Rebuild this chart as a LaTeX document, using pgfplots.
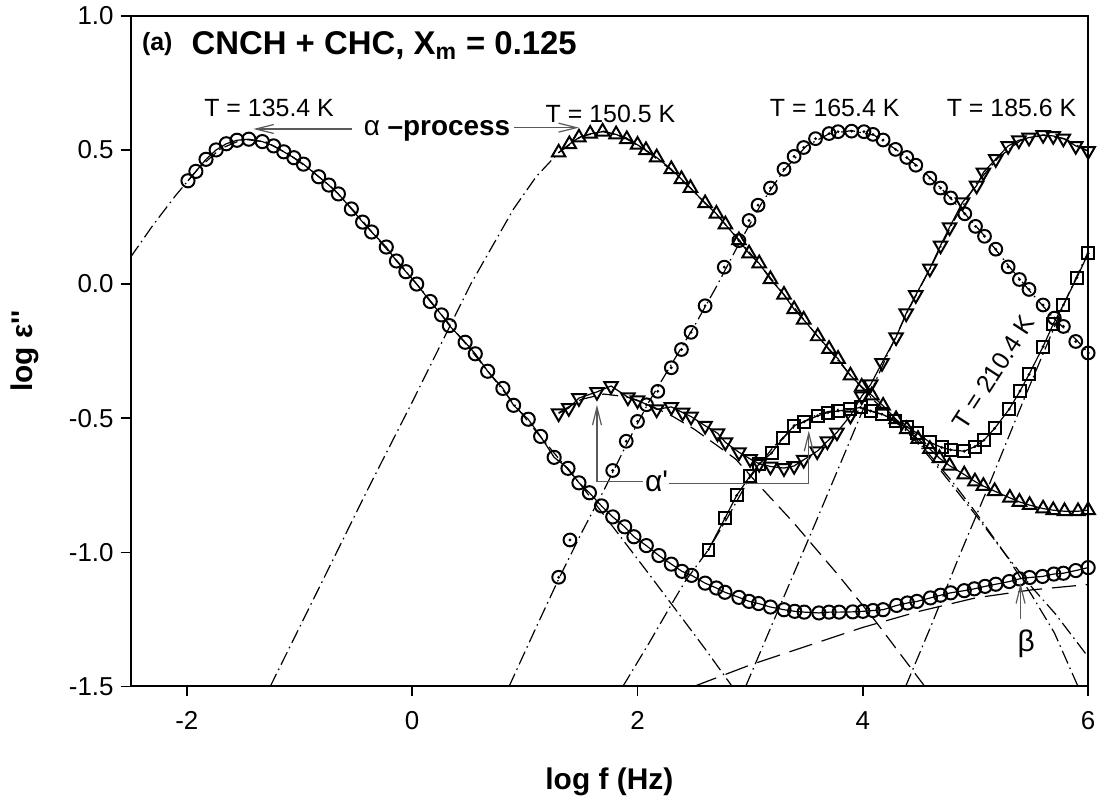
\documentclass[border=0pt]{standalone}
\usepackage{fontspec}
\setmainfont{Liberation Sans}
\newfontfamily\lsn{Liberation Sans}
\usepackage{pgfplots}
\pgfplotsset{compat=1.18}
\usetikzlibrary{arrows.meta}
\pgfdeclareplotmark{odot}{%
  \pgfpathcircle{\pgfpointorigin}{\pgfplotmarksize}\pgfusepathqstroke
  \pgfpathcircle{\pgfpointorigin}{0.8pt}\pgfusepathqfill}
\pgfdeclareplotmark{sqdot}{%
  \pgfpathrectangle{\pgfpoint{-\pgfplotmarksize}{-\pgfplotmarksize}}{\pgfpoint{2\pgfplotmarksize}{2\pgfplotmarksize}}\pgfusepathqstroke
  \pgfpathcircle{\pgfpointorigin}{0.8pt}\pgfusepathqfill}
\tikzset{
  dd/.style={black, line width=0.6pt, dash pattern=on 7pt off 2.2pt on 0.8pt off 2.2pt},
  ds/.style={black, line width=0.6pt, dash pattern=on 8pt off 4pt},
  ld/.style={black, line width=0.6pt, dash pattern=on 12pt off 5pt},
  sl/.style={black, line width=0.6pt},
  ann/.style={black!65, line width=0.6pt},
}
\begin{document}
\begin{tikzpicture}
\path (-65.5pt,-59.5pt) rectangle (485.5pt,343.5pt);
\begin{axis}[
  at={(0,0)}, anchor=south west,
  scale only axis, width=480.5pt, height=336.5pt,
  xmin=-2.5, xmax=6, ymin=-1.5, ymax=1.0,
  xtick={-2,0,2,4,6}, xticklabels={-2,0,2,4,6},
  ytick={-1.5,-1.0,-0.5,0.0,0.5,1.0}, yticklabels={-1.5,-1.0,-0.5,0.0,0.5,1.0},
  tick align=outside, xtick pos=bottom, ytick pos=left, major tick length=5pt,
  tick style={line width=0.8pt, black},
  axis line style={line width=1pt},
  ticklabel style={font=\fontsize{13}{15}\selectfont},
  xticklabel style={yshift=-4pt},
  xlabel={\textbf{log f (Hz)}},
  ylabel={\textbf{log ε{\lsn ''}}},
  xlabel style={at={(axis description cs:0.5,-0.1426)}, anchor=center, font=\fontsize{15}{17}\selectfont},
  ylabel style={at={(axis description cs:-0.11,0.5)}, anchor=center, font=\fontsize{15}{17}\selectfont},
  clip mode=individual,
]
% ---------- fit curves ----------
% 135.4 K alpha
\addplot[dd] coordinates {(-2.5,0.10) (-2.3,0.22) (-2.1,0.33) (-1.9,0.43) (-1.7,0.505) (-1.5,0.54) (-1.3,0.53) (-1.1,0.485) (-0.9,0.425) (-0.7,0.355) (-0.5,0.265) (-0.3,0.165) (-0.1,0.07) (0.1,-0.03) (0.3,-0.135) (0.5,-0.235) (0.7,-0.34) (0.9,-0.445) (1.1,-0.55) (1.3,-0.65) (1.5,-0.75) (1.7,-0.86) (1.9,-0.97) (2.1,-1.08) (2.35,-1.22) (2.6,-1.36) (2.84,-1.5)};
% 135.4 K beta
\addplot[ld] coordinates {(2.5,-1.5) (3.0,-1.42) (3.5,-1.35) (4.0,-1.28) (4.5,-1.22) (5.0,-1.17) (5.5,-1.14) (6.0,-1.12)};
% 150.5 K alpha
\addplot[dd] coordinates {(-1.26,-1.5) (-0.8,-1.11) (-0.4,-0.77) (0.0,-0.44) (0.52,0.0) (0.9,0.28) (1.1,0.40) (1.3,0.49) (1.5,0.55) (1.7,0.57) (1.9,0.545) (2.1,0.49) (2.3,0.425) (2.5,0.345) (2.7,0.26) (2.9,0.165) (3.1,0.065) (3.3,-0.04) (3.5,-0.145) (3.7,-0.245) (3.9,-0.345) (4.1,-0.435) (4.3,-0.51) (4.5,-0.6) (4.7,-0.70) (5.0,-0.86) (5.27,-1.01) (5.5,-1.13) (5.71,-1.23) (6.0,-1.39)};
% 165.4 K alpha
\addplot[dd] coordinates {(0.86,-1.5) (1.1,-1.28) (1.3,-1.1) (1.5,-0.93) (1.7,-0.77) (1.9,-0.6) (2.1,-0.44) (2.3,-0.3) (2.5,-0.16) (2.7,-0.01) (2.9,0.15) (3.1,0.3) (3.3,0.425) (3.5,0.515) (3.7,0.56) (3.9,0.572) (4.1,0.555) (4.3,0.5) (4.5,0.435) (4.7,0.355) (4.9,0.265) (5.1,0.17) (5.3,0.065) (5.5,-0.035) (5.7,-0.13) (5.9,-0.21) (6.0,-0.257)};
% 185.6 K alpha
\addplot[dd] coordinates {(2.96,-1.5) (3.30,-1.165) (3.6,-0.87) (3.82,-0.65) (4.0,-0.47) (4.2,-0.28) (4.4,-0.1) (4.6,0.06) (4.8,0.23) (5.0,0.37) (5.2,0.47) (5.4,0.535) (5.6,0.555) (5.8,0.54) (6.0,0.495)};
% 185.6 K alpha'
\addplot[ds] coordinates {(1.3,-0.48) (1.5,-0.43) (1.7,-0.41) (1.9,-0.42) (2.1,-0.45) (2.3,-0.49) (2.5,-0.54) (2.7,-0.6) (2.87,-0.652) (3.1,-0.76) (3.38,-0.887) (3.78,-1.084) (4.1,-1.25) (4.55,-1.5)};
% 210.4 K alpha'
\addplot[dd] coordinates {(1.87,-1.5) (2.1,-1.34) (2.30,-1.195) (2.42,-1.11) (2.63,-0.99) (2.8,-0.87) (3.0,-0.72) (3.2,-0.61) (3.4,-0.53) (3.6,-0.485) (3.8,-0.465) (4.0,-0.465) (4.2,-0.49) (4.42,-0.553) (4.6,-0.64) (4.8,-0.74) (5.0,-0.85) (5.27,-1.01) (5.5,-1.16) (5.7,-1.3) (5.91,-1.5)};
% 210.4 K alpha
\addplot[dd] coordinates {(4.38,-1.5) (4.6,-1.28) (4.86,-1.01) (5.1,-0.77) (5.42,-0.44) (5.6,-0.26) (5.8,-0.06) (6.0,0.12)};
% ---------- data ----------
% 135.4 K
\addplot[sl, mark=o, mark size=3.3pt, mark options={solid, line width=1pt}] coordinates {
(-1.99,0.385) (-1.92,0.42) (-1.83,0.465) (-1.74,0.50) (-1.65,0.523) (-1.555,0.536) (-1.45,0.54) (-1.33,0.531) (-1.23,0.515) (-1.14,0.493) (-1.05,0.471) (-0.965,0.447) (-0.83,0.40) (-0.74,0.369) (-0.655,0.336) (-0.54,0.28) (-0.44,0.231) (-0.36,0.194) (-0.23,0.138) (-0.14,0.086) (-0.056,0.046) (0.04,0.0) (0.16,-0.065) (0.26,-0.115) (0.33,-0.155) (0.47,-0.217) (0.56,-0.26) (0.67,-0.325) (0.805,-0.389) (0.90,-0.452) (1.03,-0.504) (1.14,-0.568) (1.26,-0.646) (1.383,-0.687) (1.48,-0.741) (1.573,-0.778) (1.68,-0.827) (1.78,-0.868) (1.886,-0.905) (1.968,-0.942) (2.078,-0.975) (2.19,-1.012) (2.30,-1.044) (2.395,-1.071) (2.48,-1.086) (2.60,-1.115) (2.70,-1.133) (2.776,-1.149) (2.90,-1.168) (2.99,-1.183) (3.075,-1.191) (3.18,-1.204) (3.30,-1.214) (3.395,-1.22) (3.48,-1.223) (3.61,-1.226) (3.70,-1.223) (3.79,-1.223) (3.91,-1.222) (4.00,-1.22) (4.09,-1.217) (4.18,-1.214) (4.30,-1.198) (4.395,-1.189) (4.48,-1.183) (4.60,-1.17) (4.69,-1.16) (4.78,-1.151) (4.90,-1.143) (4.99,-1.136) (5.085,-1.127) (5.18,-1.119) (5.30,-1.109) (5.39,-1.099) (5.48,-1.094) (5.595,-1.09) (5.695,-1.081) (5.78,-1.078) (5.89,-1.068) (6.0,-1.057)};
% 150.5 K
\addplot[sl, mark=triangle, mark size=3.9pt, mark options={solid, line width=1pt}] coordinates {
(1.30,0.49) (1.395,0.521) (1.48,0.546) (1.58,0.56) (1.69,0.568) (1.81,0.558) (1.905,0.54) (2.0,0.519) (2.075,0.499) (2.17,0.472) (2.30,0.428) (2.39,0.391) (2.47,0.358) (2.60,0.301) (2.70,0.262) (2.78,0.222) (2.90,0.163) (2.99,0.114) (3.08,0.077) (3.18,0.018) (3.30,-0.04) (3.39,-0.094) (3.475,-0.133) (3.60,-0.195) (3.70,-0.242) (3.78,-0.279) (3.89,-0.341) (3.99,-0.383) (4.08,-0.415) (4.18,-0.454) (4.295,-0.504) (4.39,-0.541) (4.49,-0.578) (4.595,-0.615) (4.68,-0.649) (4.77,-0.677) (4.90,-0.71) (4.995,-0.736) (5.07,-0.753) (5.17,-0.772) (5.305,-0.797) (5.39,-0.812) (5.48,-0.824) (5.60,-0.837) (5.69,-0.843) (5.79,-0.847) (5.91,-0.847) (6.0,-0.843)};
% 165.4 K
\addplot[only marks, mark=odot, mark size=3.2pt, mark options={solid, line width=1pt}] coordinates {
(1.30,-1.093) (1.40,-0.954) (1.78,-0.695) (1.90,-0.586) (2.0,-0.512) (2.08,-0.45) (2.18,-0.40) (2.30,-0.312) (2.39,-0.244) (2.475,-0.18) (2.60,-0.081) (2.77,0.063) (2.90,0.162) (2.99,0.237) (3.07,0.294) (3.18,0.358) (3.30,0.428) (3.39,0.476) (3.475,0.509) (3.58,0.542) (3.70,0.561) (3.78,0.568) (3.90,0.57) (4.01,0.568) (4.09,0.558) (4.18,0.537) (4.29,0.502) (4.39,0.472) (4.47,0.443) (4.595,0.395) (4.69,0.358) (4.78,0.321) (4.905,0.262) (5.00,0.215) (5.08,0.178) (5.18,0.13) (5.29,0.064) (5.39,0.017) (5.475,-0.02) (5.60,-0.078) (5.70,-0.127) (5.78,-0.158) (5.89,-0.214) (6.0,-0.257)};
% 185.6 K
\addplot[sl, mark=triangle, mark size=3.9pt, mark options={solid, line width=1pt, rotate=180}] coordinates {
(1.30,-0.482) (1.39,-0.462) (1.48,-0.425) (1.64,-0.402) (1.765,-0.38) (1.915,-0.422) (2.0,-0.433) (2.17,-0.467) (2.30,-0.458) (2.40,-0.479) (2.475,-0.494) (2.60,-0.528) (2.71,-0.556) (2.78,-0.59) (2.90,-0.627) (3.0,-0.652) (3.08,-0.67) (3.18,-0.68) (3.30,-0.686) (3.39,-0.678) (3.475,-0.655) (3.595,-0.623) (3.685,-0.586) (3.77,-0.553) (3.89,-0.49) (3.99,-0.418) (4.07,-0.374) (4.17,-0.294) (4.295,-0.198) (4.385,-0.109) (4.47,-0.041) (4.595,0.058) (4.69,0.144) (4.77,0.212) (4.885,0.305) (5.01,0.367) (5.07,0.416) (5.18,0.466) (5.29,0.515) (5.385,0.536) (5.475,0.546) (5.60,0.556) (5.69,0.552) (5.78,0.543) (5.89,0.515) (6.0,0.496)};
% 210.4 K
\addplot[sl, mark=sqdot, mark size=3pt, mark options={solid, line width=1pt}] coordinates {
(2.63,-0.99) (2.776,-0.873) (2.88,-0.788) (3.0,-0.715) (3.08,-0.67) (3.19,-0.63) (3.29,-0.575) (3.39,-0.528) (3.48,-0.513) (3.60,-0.491) (3.69,-0.479) (3.78,-0.473) (3.89,-0.467) (3.98,-0.46) (4.07,-0.473) (4.17,-0.485) (4.29,-0.51) (4.39,-0.533) (4.48,-0.555) (4.595,-0.59) (4.70,-0.609) (4.78,-0.618) (4.90,-0.623) (4.995,-0.606) (5.075,-0.582) (5.17,-0.538) (5.30,-0.466) (5.395,-0.399) (5.475,-0.337) (5.60,-0.233) (5.69,-0.149) (5.78,-0.078) (5.90,0.024) (6.0,0.114)};
% ---------- annotations ----------
\node[anchor=west, font=\bfseries\fontsize{12.5}{14}\selectfont] at (axis cs:-2.46,0.893) {(a)};
\node[anchor=west, font=\bfseries\fontsize{16.5}{19}\selectfont] at (axis cs:-2.02,0.888) {CNCH + CHC, X\textsubscript{m} = 0.125};
\node[font=\fontsize{12.5}{14}\selectfont] at (axis cs:-1.27,0.657) {T = 135.4 K};
\node[font=\fontsize{12.5}{14}\selectfont] at (axis cs:1.76,0.636) {T = 150.5 K};
\node[font=\fontsize{12.5}{14}\selectfont] at (axis cs:3.75,0.656) {T = 165.4 K};
\node[font=\fontsize{12.5}{14}\selectfont] at (axis cs:5.32,0.656) {T = 185.6 K};
\node[rotate=57, font=\fontsize{12.5}{14}\selectfont] at (axis cs:5.16,-0.33) {T = 210.4 K};
\node[font=\fontsize{14}{16}\selectfont] at (axis cs:0.22,0.572) {α \textbf{–process}};
\draw[ann, -{Straight Barb[length=9pt,width=4.5pt]}] (axis cs:-0.53,0.578) -- (axis cs:-1.41,0.578);
\draw[ann, -{Straight Barb[length=9pt,width=4.5pt]}] (axis cs:0.90,0.583) -- (axis cs:1.48,0.583);
\draw[ann, -{Straight Barb[length=9pt,width=4.5pt]}] (axis cs:2.05,-0.735) -- (axis cs:1.64,-0.735) -- (axis cs:1.64,-0.45);
\draw[ann, -{Straight Barb[length=9pt,width=4.5pt]}] (axis cs:2.28,-0.742) -- (axis cs:3.52,-0.742) -- (axis cs:3.52,-0.547);
\node[font=\fontsize{15}{17}\selectfont] at (axis cs:2.17,-0.735) {α{\lsn '}};
\draw[ann, -{Straight Barb[length=9pt,width=4.5pt]}] (axis cs:5.40,-1.25) -- (axis cs:5.40,-1.115);
\node[font=\fontsize{15}{17}\selectfont] at (axis cs:5.45,-1.34) {β};
\end{axis}
\end{tikzpicture}
\end{document}
